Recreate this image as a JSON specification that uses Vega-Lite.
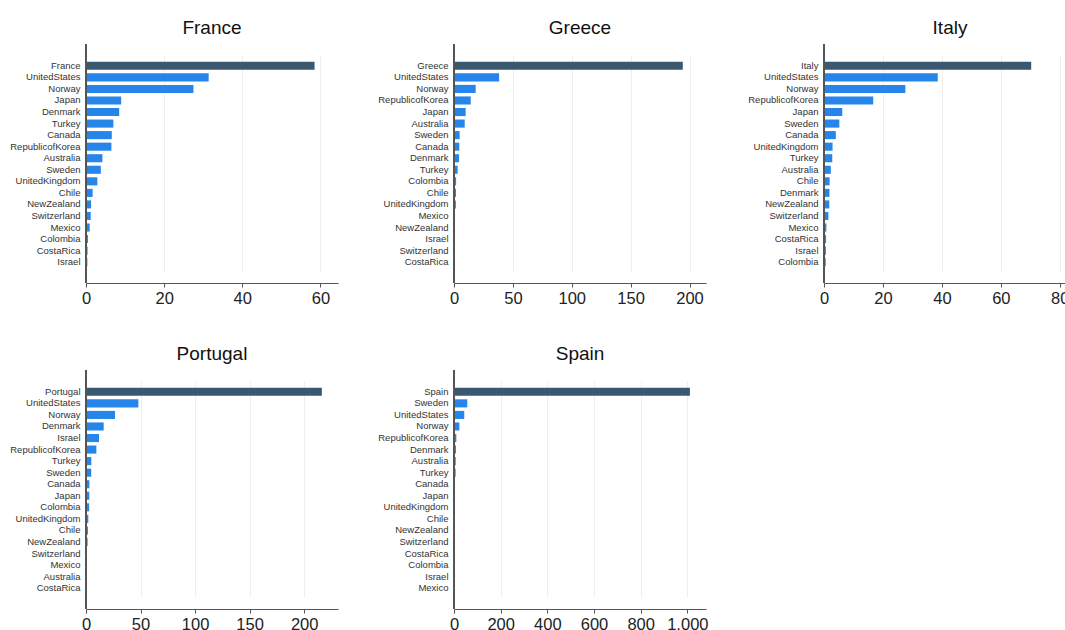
{
  "$schema": "https://vega.github.io/schema/vega-lite/v6.json",
  "background": "white",
  "padding": {"left": 9, "top": 19, "right": 0, "bottom": 5},
  "data": {
    "values": [
      {"reporter": "France", "partner": "France", "value": 58.5},
      {"reporter": "France", "partner": "UnitedStates", "value": 31.4},
      {"reporter": "France", "partner": "Norway", "value": 27.5},
      {"reporter": "France", "partner": "Japan", "value": 9.0},
      {"reporter": "France", "partner": "Denmark", "value": 8.5},
      {"reporter": "France", "partner": "Turkey", "value": 7.0},
      {"reporter": "France", "partner": "Canada", "value": 6.6},
      {"reporter": "France", "partner": "RepublicofKorea", "value": 6.5},
      {"reporter": "France", "partner": "Australia", "value": 4.2},
      {"reporter": "France", "partner": "Sweden", "value": 3.8},
      {"reporter": "France", "partner": "UnitedKingdom", "value": 2.9},
      {"reporter": "France", "partner": "Chile", "value": 1.7},
      {"reporter": "France", "partner": "NewZealand", "value": 1.3},
      {"reporter": "France", "partner": "Switzerland", "value": 1.2},
      {"reporter": "France", "partner": "Mexico", "value": 0.95},
      {"reporter": "France", "partner": "Colombia", "value": 0.5},
      {"reporter": "France", "partner": "CostaRica", "value": 0.4},
      {"reporter": "France", "partner": "Israel", "value": 0.35},

      {"reporter": "Greece", "partner": "Greece", "value": 194.3},
      {"reporter": "Greece", "partner": "UnitedStates", "value": 38.3},
      {"reporter": "Greece", "partner": "Norway", "value": 18.4},
      {"reporter": "Greece", "partner": "RepublicofKorea", "value": 14.2},
      {"reporter": "Greece", "partner": "Japan", "value": 9.9},
      {"reporter": "Greece", "partner": "Australia", "value": 9.1},
      {"reporter": "Greece", "partner": "Sweden", "value": 4.8},
      {"reporter": "Greece", "partner": "Canada", "value": 4.5},
      {"reporter": "Greece", "partner": "Denmark", "value": 4.3},
      {"reporter": "Greece", "partner": "Turkey", "value": 3.1},
      {"reporter": "Greece", "partner": "Colombia", "value": 1.8},
      {"reporter": "Greece", "partner": "Chile", "value": 1.7},
      {"reporter": "Greece", "partner": "UnitedKingdom", "value": 1.6},
      {"reporter": "Greece", "partner": "Mexico", "value": 0.5},
      {"reporter": "Greece", "partner": "NewZealand", "value": 0.4},
      {"reporter": "Greece", "partner": "Israel", "value": 0.3},
      {"reporter": "Greece", "partner": "Switzerland", "value": 0.25},
      {"reporter": "Greece", "partner": "CostaRica", "value": 0.1},

      {"reporter": "Italy", "partner": "Italy", "value": 70.3},
      {"reporter": "Italy", "partner": "UnitedStates", "value": 38.6},
      {"reporter": "Italy", "partner": "Norway", "value": 27.6},
      {"reporter": "Italy", "partner": "RepublicofKorea", "value": 16.7},
      {"reporter": "Italy", "partner": "Japan", "value": 6.2},
      {"reporter": "Italy", "partner": "Sweden", "value": 5.2},
      {"reporter": "Italy", "partner": "Canada", "value": 4.0},
      {"reporter": "Italy", "partner": "UnitedKingdom", "value": 2.9},
      {"reporter": "Italy", "partner": "Turkey", "value": 2.8},
      {"reporter": "Italy", "partner": "Australia", "value": 2.3},
      {"reporter": "Italy", "partner": "Chile", "value": 1.9},
      {"reporter": "Italy", "partner": "Denmark", "value": 1.85},
      {"reporter": "Italy", "partner": "NewZealand", "value": 1.8},
      {"reporter": "Italy", "partner": "Switzerland", "value": 1.5},
      {"reporter": "Italy", "partner": "Mexico", "value": 0.8},
      {"reporter": "Italy", "partner": "CostaRica", "value": 0.7},
      {"reporter": "Italy", "partner": "Israel", "value": 0.65},
      {"reporter": "Italy", "partner": "Colombia", "value": 0.6},

      {"reporter": "Portugal", "partner": "Portugal", "value": 216.2},
      {"reporter": "Portugal", "partner": "UnitedStates", "value": 48.0},
      {"reporter": "Portugal", "partner": "Norway", "value": 26.6},
      {"reporter": "Portugal", "partner": "Denmark", "value": 16.2},
      {"reporter": "Portugal", "partner": "Israel", "value": 11.9},
      {"reporter": "Portugal", "partner": "RepublicofKorea", "value": 9.5},
      {"reporter": "Portugal", "partner": "Turkey", "value": 4.9},
      {"reporter": "Portugal", "partner": "Sweden", "value": 4.8},
      {"reporter": "Portugal", "partner": "Canada", "value": 3.1},
      {"reporter": "Portugal", "partner": "Japan", "value": 3.0},
      {"reporter": "Portugal", "partner": "Colombia", "value": 2.9},
      {"reporter": "Portugal", "partner": "UnitedKingdom", "value": 2.1},
      {"reporter": "Portugal", "partner": "Chile", "value": 1.8},
      {"reporter": "Portugal", "partner": "NewZealand", "value": 1.5},
      {"reporter": "Portugal", "partner": "Switzerland", "value": 0.6},
      {"reporter": "Portugal", "partner": "Mexico", "value": 0.5},
      {"reporter": "Portugal", "partner": "Australia", "value": 0.4},
      {"reporter": "Portugal", "partner": "CostaRica", "value": 0.3},

      {"reporter": "Spain", "partner": "Spain", "value": 1011},
      {"reporter": "Spain", "partner": "Sweden", "value": 57},
      {"reporter": "Spain", "partner": "UnitedStates", "value": 44},
      {"reporter": "Spain", "partner": "Norway", "value": 23},
      {"reporter": "Spain", "partner": "RepublicofKorea", "value": 10},
      {"reporter": "Spain", "partner": "Denmark", "value": 8.5},
      {"reporter": "Spain", "partner": "Australia", "value": 7.5},
      {"reporter": "Spain", "partner": "Turkey", "value": 7},
      {"reporter": "Spain", "partner": "Canada", "value": 4},
      {"reporter": "Spain", "partner": "Japan", "value": 3.5},
      {"reporter": "Spain", "partner": "UnitedKingdom", "value": 3},
      {"reporter": "Spain", "partner": "Chile", "value": 2.5},
      {"reporter": "Spain", "partner": "NewZealand", "value": 2.2},
      {"reporter": "Spain", "partner": "Switzerland", "value": 2},
      {"reporter": "Spain", "partner": "CostaRica", "value": 1.8},
      {"reporter": "Spain", "partner": "Colombia", "value": 1.5},
      {"reporter": "Spain", "partner": "Israel", "value": 1.3},
      {"reporter": "Spain", "partner": "Mexico", "value": 1}
    ]
  },
  "columns": 3,
  "spacing": {"column": 39, "row": 38},
  "concat": [
    {
      "title": "France",
      "transform": [{"filter": "datum.reporter === 'France'"}],
      "width": 252, "height": 239,
      "layer": [
        {
          "mark": {"type": "bar"},
          "encoding": {
            "y": {"field": "partner", "type": "nominal", "sort": "-x", "title": null,
                  "scale": {"paddingInner": 0.3, "paddingOuter": 0.5, "range": [12, 228]}},
            "x": {"field": "value", "type": "quantitative", "title": null,
                  "scale": {"domain": [0, 64.5], "nice": false},
                  "axis": {"values": [0, 20, 40, 60]}},
            "color": {"condition": {"test": "datum.partner === datum.reporter", "value": "#3a586f"}, "value": "#2585ea"}
          }
        },
        {"mark": {"type": "rule", "color": "#555555", "strokeWidth": 1.2}, "encoding": {"x": {"datum": 0}}}
      ]
    },
    {
      "title": "Greece",
      "transform": [{"filter": "datum.reporter === 'Greece'"}],
      "width": 252, "height": 239,
      "layer": [
        {
          "mark": {"type": "bar"},
          "encoding": {
            "y": {"field": "partner", "type": "nominal", "sort": "-x", "title": null,
                  "scale": {"paddingInner": 0.3, "paddingOuter": 0.5, "range": [12, 228]}},
            "x": {"field": "value", "type": "quantitative", "title": null,
                  "scale": {"domain": [0, 214], "nice": false},
                  "axis": {"values": [0, 50, 100, 150, 200]}},
            "color": {"condition": {"test": "datum.partner === datum.reporter", "value": "#3a586f"}, "value": "#2585ea"}
          }
        },
        {"mark": {"type": "rule", "color": "#555555", "strokeWidth": 1.2}, "encoding": {"x": {"datum": 0}}}
      ]
    },
    {
      "title": "Italy",
      "transform": [{"filter": "datum.reporter === 'Italy'"}],
      "width": 252, "height": 239,
      "layer": [
        {
          "mark": {"type": "bar"},
          "encoding": {
            "y": {"field": "partner", "type": "nominal", "sort": "-x", "title": null,
                  "scale": {"paddingInner": 0.3, "paddingOuter": 0.5, "range": [12, 228]}},
            "x": {"field": "value", "type": "quantitative", "title": null,
                  "scale": {"domain": [0, 85.5], "nice": false},
                  "axis": {"values": [0, 20, 40, 60, 80]}},
            "color": {"condition": {"test": "datum.partner === datum.reporter", "value": "#3a586f"}, "value": "#2585ea"}
          }
        },
        {"mark": {"type": "rule", "color": "#555555", "strokeWidth": 1.2}, "encoding": {"x": {"datum": 0}}}
      ]
    },
    {
      "title": "Portugal",
      "transform": [{"filter": "datum.reporter === 'Portugal'"}],
      "width": 252, "height": 239,
      "layer": [
        {
          "mark": {"type": "bar"},
          "encoding": {
            "y": {"field": "partner", "type": "nominal", "sort": "-x", "title": null,
                  "scale": {"paddingInner": 0.3, "paddingOuter": 0.5, "range": [12, 228]}},
            "x": {"field": "value", "type": "quantitative", "title": null,
                  "scale": {"domain": [0, 231], "nice": false},
                  "axis": {"values": [0, 50, 100, 150, 200]}},
            "color": {"condition": {"test": "datum.partner === datum.reporter", "value": "#3a586f"}, "value": "#2585ea"}
          }
        },
        {"mark": {"type": "rule", "color": "#555555", "strokeWidth": 1.2}, "encoding": {"x": {"datum": 0}}}
      ]
    },
    {
      "title": "Spain",
      "transform": [{"filter": "datum.reporter === 'Spain'"}],
      "width": 252, "height": 239,
      "layer": [
        {
          "mark": {"type": "bar"},
          "encoding": {
            "y": {"field": "partner", "type": "nominal", "sort": "-x", "title": null,
                  "scale": {"paddingInner": 0.3, "paddingOuter": 0.5, "range": [12, 228]}},
            "x": {"field": "value", "type": "quantitative", "title": null,
                  "scale": {"domain": [0, 1080], "nice": false},
                  "axis": {"values": [0, 200, 400, 600, 800, 1000]}},
            "color": {"condition": {"test": "datum.partner === datum.reporter", "value": "#3a586f"}, "value": "#2585ea"}
          }
        },
        {"mark": {"type": "rule", "color": "#555555", "strokeWidth": 1.2}, "encoding": {"x": {"datum": 0}}}
      ]
    }
  ],
  "config": {
    "font": "Liberation Sans",
    "view": {"stroke": null},
    "title": {"fontSize": 19, "fontWeight": "normal", "color": "#111111", "anchor": "middle", "frame": "group", "offset": 5},
    "axisY": {
      "domain": false, "ticks": false, "grid": false,
      "labelFontSize": 9.5, "labelColor": "#333333", "labelPadding": 6
    },
    "axisX": {
      "domainColor": "#555555", "domainWidth": 1.2, "tickColor": "#555555", "tickSize": 4,
      "labelFontSize": 16.5, "labelColor": "#222222", "labelPadding": 3, "labelFlush": false,
      "grid": true, "gridColor": "#eeeeee", "gridWidth": 1
    }
  }
}
